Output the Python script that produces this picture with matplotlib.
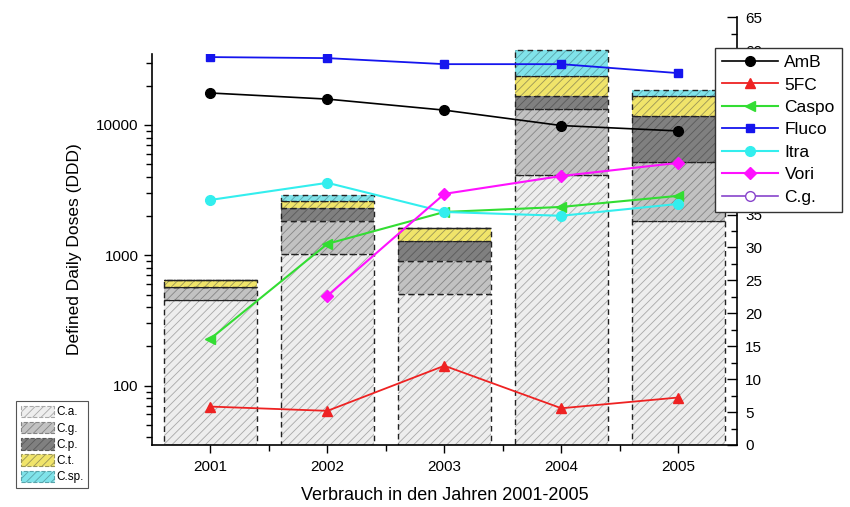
import matplotlib
matplotlib.use("Agg")
import matplotlib.pyplot as plt
import numpy as np
from matplotlib.patches import Patch
from matplotlib.ticker import (LogLocator, NullFormatter, MultipleLocator,
                               FixedLocator, FuncFormatter)

plt.rcParams['font.family'] = ['Liberation Sans', 'DejaVu Sans']
plt.rcParams['hatch.linewidth'] = 0.6

years = [2001, 2002, 2003, 2004, 2005]

# isolates per species (right axis, stacked)
species = ["C.a.", "C.g.", "C.p.", "C.t.", "C.sp."]
ca = [22, 29, 23, 41, 34]
cg = [2, 5, 5, 10, 9]
cp = [0, 2, 3, 2, 7]
ct = [1, 1, 2, 3, 3]
csp = [0, 1, 0, 4, 1]

# defined daily doses per drug (left axis, log)
amb = [17600, 15800, 13000, 9900, 9000]
fc5 = [69, 64, 142, 67, 81]
caspo = [229, 1225, 2150, 2350, 2860]
fluco = [33200, 32600, 29300, 29300, 25000]
itra = [2660, 3600, 2150, 2010, 2480]
vori_years = [2002, 2003, 2004, 2005]
vori = [490, 2960, 4060, 5120]

fig = plt.figure(figsize=(8.5, 5.07), dpi=100)
ax_bar = fig.add_axes([0.1788, 0.1223, 0.688, 0.844])
ax_line = fig.add_axes([0.1788, 0.1223, 0.688, 0.771])

# --- stacked bars ---
faces = ["#eeeeee", "#c2c2c2", "#808080", "#f0e46a", "#80e3ea"]
hatch_cols = ["#a8a8a8", "#858585", "#5a5a5a", "#9a9458", "#5aa4ab"]
stack = [ca, cg, cp, ct, csp]
bottom = np.zeros(len(years))
for vals, fc, hc in zip(stack, faces, hatch_cols):
    vals = np.array(vals, dtype=float)
    ax_bar.bar(years, vals, width=0.8, bottom=bottom, color=fc,
               edgecolor=hc, hatch="////", linewidth=0)
    ax_bar.bar(years, vals, width=0.8, bottom=bottom, fill=False,
               edgecolor="#222222", linestyle=(0, (4, 3)), linewidth=1.0)
    bottom += vals

ax_bar.set_xlim(2000.5, 2005.5)
ax_bar.set_ylim(0, 65)
ax_bar.yaxis.tick_right()
ax_bar.yaxis.set_major_locator(MultipleLocator(5))
ax_bar.yaxis.set_minor_locator(MultipleLocator(2.5))
ax_bar.tick_params(axis="y", which="major", direction="in", length=7, width=1,
                   labelsize=11, pad=6)
ax_bar.tick_params(axis="y", which="minor", direction="in", length=4, width=1)
ax_bar.set_xticks(years)
ax_bar.xaxis.set_minor_locator(FixedLocator([2001.5, 2002.5, 2003.5, 2004.5]))
ax_bar.tick_params(axis="x", which="major", direction="out", length=6, width=1,
                   labelsize=11, pad=5)
ax_bar.tick_params(axis="x", which="minor", direction="out", length=4, width=1)
for s in ["top", "left"]:
    ax_bar.spines[s].set_visible(False)
for s in ["right", "bottom"]:
    ax_bar.spines[s].set_linewidth(1.2)
ax_bar.set_xlabel("Verbrauch in den Jahren 2001-2005", fontsize=13, labelpad=9)

# --- drug consumption lines ---
ax_line.patch.set_visible(False)
ax_line.set_yscale("log")
ax_line.set_ylim(35, 35000)
ax_line.set_xlim(2000.5, 2005.5)
ax_line.plot(years, amb, color="black", marker="o", ms=7, lw=1.2, label="AmB")
ax_line.plot(years, fc5, color="#ee2222", marker="^", ms=7, lw=1.3, label="5FC")
ax_line.plot(years, caspo, color="#33dd33", marker="<", ms=7, lw=1.5, label="Caspo")
ax_line.plot(years, fluco, color="#1515ee", marker="s", ms=6, lw=1.3, label="Fluco")
ax_line.plot(years, itra, color="#33eeee", marker="o", ms=7, lw=1.5, label="Itra")
ax_line.plot(vori_years, vori, color="#ff11ff", marker="D", ms=6, lw=1.5, label="Vori")
ax_line.plot([], [], color="#8844cc", marker="o", ms=7, mfc="white", lw=1.2, label="C.g.")

ax_line.yaxis.set_major_locator(LogLocator(base=10, numticks=10))
ax_line.yaxis.set_major_formatter(FuncFormatter(lambda v, p: f"{v:.0f}"))
ax_line.yaxis.set_minor_locator(LogLocator(base=10, subs=np.arange(2, 10), numticks=20))
ax_line.yaxis.set_minor_formatter(NullFormatter())
ax_line.tick_params(axis="y", which="major", direction="out", length=6, width=1,
                    labelsize=11)
ax_line.tick_params(axis="y", which="minor", direction="out", length=4, width=1)
ax_line.set_xticks([])
for s in ["top", "right", "bottom"]:
    ax_line.spines[s].set_visible(False)
ax_line.spines["left"].set_linewidth(1.2)
ax_line.set_ylabel("Defined Daily Doses (DDD)", fontsize=12.5, labelpad=10)

leg = ax_line.legend(loc="upper left", bbox_to_anchor=(715 / 850, 1 - 48 / 507),
                     bbox_transform=fig.transFigure, fontsize=12.5, frameon=True,
                     fancybox=False, framealpha=1, edgecolor="#333333",
                     handlelength=3.2, labelspacing=0.42, borderpad=0.4,
                     handletextpad=0.4, borderaxespad=0)
leg.get_frame().set_linewidth(1.0)

# species legend for the bars
bar_handles = [Patch(facecolor=fc, edgecolor=hc, hatch="////", linewidth=0.8,
                     linestyle="--")
               for fc, hc in zip(faces, hatch_cols)]
bleg = fig.legend(bar_handles, species, loc="upper left",
                  bbox_to_anchor=(16 / 850, 1 - 401 / 507), fontsize=8.5,
                  frameon=True, fancybox=False, framealpha=1, edgecolor="#555555",
                  handlelength=2.8, handleheight=1.1, labelspacing=0.3,
                  borderpad=0.4, handletextpad=0.2, borderaxespad=0)
bleg.get_frame().set_linewidth(0.8)

fig.savefig("out.png", dpi=100)
